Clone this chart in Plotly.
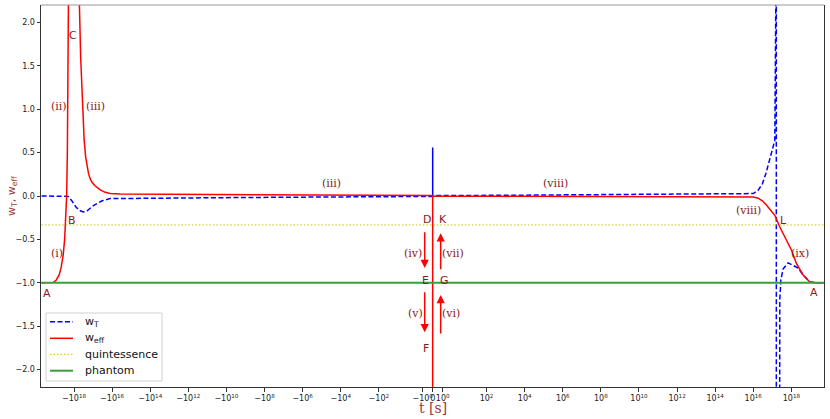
import numpy as np
import plotly.graph_objects as go

# ---- data (t in seconds) ----
t_eff = [-5e19, -1.8e19, -1.2e19, -8.7e18, -6e18, -4.7e18, -3.7e18, -3.1e18, -2.7e18,
         -2.43e18, -2.23e18, -2.12e18, -2.02e18, -1.95e18, -1.85e18, -1.1e18, -6e17,
         -5.2e17, -4.47e17, -3.6e17, -2.93e17, -2.44e17, -2.04e17, -1.74e17, -1.42e17,
         -1.11e17, -8.2e16, -6.3e16, -4.2e16, -2.3e16, -1.26e16, -3.8e15,
         -1e14, -1e9, -3e3, -0.77, -0.001, 0.0,
         0.001, 500, 9e7, 1.6e13, 1e16, 1.8e16, 3e16, 5e16, 8e16, 1.35e17, 2.47e17,
         5.56e17, 1.02e18, 1.86e18, 4.13e18, 9.3e18, 1.9e19, 5e19]
w_eff = [-1.0, -1.0, -0.995, -0.97, -0.91, -0.82, -0.68, -0.5, -0.28,
         0.0, 0.5, 1.0, 1.5, 2.2, 4.0, 10.0, 4.0,
         2.2, 1.6, 1.0, 0.64, 0.45, 0.33, 0.26, 0.2,
         0.155, 0.12, 0.10, 0.07, 0.042, 0.028, 0.022,
         0.02, 0.016, 0.012, 0.008, 0.005, -30.0,
         -0.002, -0.004, -0.006, -0.01, -0.012, -0.025, -0.055, -0.107, -0.16, -0.222, -0.357,
         -0.51, -0.625, -0.78, -0.91, -0.99, -1.0, -1.0]

t_T = [-5e19, -2.5e18, -2.0e18, -1.25e18, -7.7e17, -4.75e17, -3.2e17, -2.04e17, -1.11e17,
       -6.3e16, -3.3e16, -1.26e16, -1e14, -1e9, -3e3, -0.77, -0.001, 0.0,
       0.001, 500, 9e7, 1.6e13, 1e16, 1.8e16, 3e16, 4.6e16, 9.1e16, 1.35e17, 1.52e17,
       1.58e17, 1.66e17, 2.27e17, 2.47e17, 2.79e17, 3.68e17, 6.74e17, 1.23e18, 2.25e18,
       4.13e18, 9.3e18, 1.9e19, 5e19]
w_T = [0.0, 0.0, -0.005, -0.06, -0.13, -0.17, -0.185, -0.17, -0.12,
       -0.088, -0.055, -0.03, -0.025, -0.017, -0.01, -0.006, -0.005, 0.56,
       0.005, 0.008, 0.014, 0.022, 0.028, 0.066, 0.14, 0.26, 0.49, 0.64, 2.2,
       30.0, -30.0, -3.0, -1.2, -0.97, -0.84, -0.77, -0.8, -0.83,
       -0.91, -0.99, -1.0, -1.0]

t_ref = [-1e21, 1e21]
w_quint = [-1/3, -1/3]
w_phantom = [-1.0, -1.0]

tick_exps = [18, 16, 14, 12, 10, 8, 6, 4, 2, 0]
y_ticks = [-2.0, -1.5, -1.0, -0.5, 0.0, 0.5, 1.0, 1.5, 2.0]

legend_names = ["w<sub>T</sub>", "w<sub>eff</sub>", "quintessence", "phantom"]

# labels: (text, t, w, serif?)
labels = [("A", -2.6e19, -1.118, False), ("A", 1.55e19, -1.113, False),
          ("B", -1.3e18, -0.28, False), ("C", -1.07e18, 1.843, False),
          ("(i)", -7.4e18, -0.664, True), ("(ii)", -5.8e18, 1.033, True),
          ("(iii)", -7.1e16, 1.033, True), ("(iii)", -3.2e4, 0.143, True),
          ("(viii)", 4.4e5, 0.143, True), ("(viii)", 5.4e15, -0.165, True),
          ("L", 4e17, -0.28, False), ("(ix)", 3e18, -0.664, True),
          ("D", -0.6, -0.272, False), ("K", 1.06, -0.272, False),
          ("(iv)", -1.94, -0.657, True), ("(vii)", 2.06, -0.657, True),
          ("E", -0.7, -0.971, False), ("G", 1.16, -0.971, False),
          ("(v)", -1.7, -1.355, True), ("(vi)", 1.83, -1.355, True),
          ("F", -0.7, -1.758, False)]
# arrows: (t, w_tail, w_head)
arrows = [(-0.8, -0.40, -0.83), (-0.8, -1.09, -1.57),
          (0.8, -1.60, -1.14), (0.8, -0.86, -0.43)]

# ---- symmetric log transform ----
L_TH = 2.25
C_LIN = 1.18


def symlog(t):
    t = np.asarray(t, dtype=float)
    a = np.abs(t)
    lin = a * C_LIN / L_TH
    lg = C_LIN + np.log10(np.maximum(a, 1e-300) / L_TH)
    return np.sign(t) * np.where(a <= L_TH, lin, lg)


tickvals = [-(10.0 ** e) for e in tick_exps] + [0.0] + [10.0 ** e for e in reversed(tick_exps)]
ticktext = ["\u221210<sup>%d</sup>" % e for e in tick_exps] + ["0"] + \
           ["10<sup>%d</sup>" % e for e in reversed(tick_exps)]

styles = [dict(color="#0000ff", width=1.5, dash="5px,2.5px"),
          dict(color="#ff0000", width=1.5),
          dict(color="#c8c000", width=1, dash="1.5px,2px"),
          dict(color="#3a9e3a", width=2)]

fig = go.Figure()
fig.add_trace(go.Scatter(x=symlog(t_T), y=w_T, mode="lines", name=legend_names[0],
                         line=styles[0]))
fig.add_trace(go.Scatter(x=symlog(t_eff), y=w_eff, mode="lines", name=legend_names[1],
                         line=styles[1]))
fig.add_trace(go.Scatter(x=symlog(t_ref), y=w_quint, mode="lines", name=legend_names[2],
                         line=styles[2]))
fig.add_trace(go.Scatter(x=symlog(t_ref), y=w_phantom, mode="lines", name=legend_names[3],
                         line=styles[3]))

title_color = "#a03c3c"
ann = []
for txt, tx, wy, serif in labels:
    ann.append(dict(x=float(symlog(tx)), y=wy, xref="x", yref="y", text=txt, showarrow=False,
                    font=dict(family="DejaVu Serif" if serif else "DejaVu Sans", size=11,
                              color="#8b1a1a"),
                    xanchor="center", yanchor="middle"))
for tx, w0, w1 in arrows:
    u = float(symlog(tx))
    ann.append(dict(x=u, y=w1, ax=u, ay=w0, xref="x", yref="y", axref="x", ayref="y",
                    text="", showarrow=True, arrowhead=2, arrowsize=1.1, arrowwidth=1.5,
                    arrowcolor="#ff0000"))
# axis titles
ann.append(dict(x=0.5, y=-0.054, xref="paper", yref="paper", text="t [s]", showarrow=False,
                xanchor="center", yanchor="middle",
                font=dict(family="DejaVu Serif", size=14, color=title_color)))
ann.append(dict(x=-0.037, y=0.5, xref="paper", yref="paper",
                text="w<sub>T</sub>, w<sub>eff</sub>", showarrow=False, textangle=-90,
                xanchor="center", yanchor="middle",
                font=dict(family="DejaVu Sans", size=11, color=title_color)))

# hand-drawn legend box (paper coords)
shapes = [dict(type="line", xref="paper", yref="paper", x0=0, x1=1, y0=1, y1=1,
               line=dict(color="#999", width=1)),
          dict(type="rect", xref="paper", yref="paper", x0=0.0064, x1=0.1545,
               y0=0.0157, y1=0.1937, fillcolor="rgba(255,255,255,0.8)",
               line=dict(color="#d0d0d0", width=1))]
leg_y = [0.1709, 0.1275, 0.0856, 0.0427]
for name, st, yy in zip(legend_names, styles, leg_y):
    shapes.append(dict(type="line", xref="paper", yref="paper", x0=0.0115, x1=0.0409,
                       y0=yy, y1=yy, line=st))
    ann.append(dict(x=0.0533, y=yy, xref="paper", yref="paper", text=name, showarrow=False,
                    xanchor="left", yanchor="middle",
                    font=dict(family="DejaVu Sans", size=11, color="#111")))

fig.update_layout(
    width=830, height=419, autosize=False,
    margin=dict(l=41, r=6, t=5, b=32),
    plot_bgcolor="white", paper_bgcolor="white",
    font=dict(family="DejaVu Sans", color="#222"),
    showlegend=False,
    annotations=ann,
    shapes=shapes,
)
fig.update_xaxes(range=[-20.56, 20.54], tickvals=list(symlog(tickvals)), ticktext=ticktext,
                 automargin=False, tickangle=0,
                 showgrid=False, zeroline=False, showline=True, linecolor="#333", linewidth=1,
                 ticks="outside", ticklen=3.5, tickwidth=0.8, tickcolor="#333",
                 tickfont=dict(size=8, color="#222"))
fig.update_yaxes(range=[-2.2, 2.2], tickvals=y_ticks,
                 ticktext=["%.1f" % v if v >= 0 else "\u2212%.1f" % abs(v) for v in y_ticks],
                 automargin=False,
                 showgrid=False, zeroline=False, showline=True, mirror=True,
                 linecolor="#333", linewidth=1,
                 ticks="outside", ticklen=3.5, tickwidth=0.8, tickcolor="#333",
                 tickfont=dict(size=8, color="#222"))

fig.write_html("out.html", config={"displayModeBar": False},
               post_script="document.body.style.margin='0px';")
